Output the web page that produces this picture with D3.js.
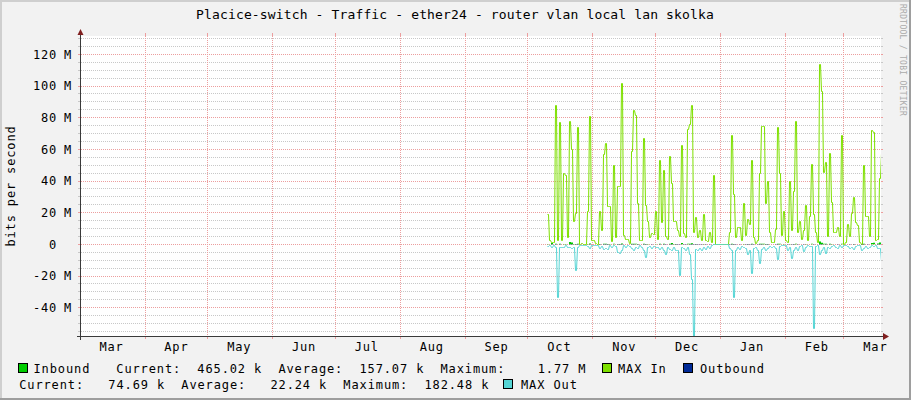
<!DOCTYPE html>
<html><head><meta charset="utf-8">
<script src="https://cdn.jsdelivr.net/npm/d3@7/dist/d3.min.js"></script>
<style>
html,body{margin:0;padding:0;background:#f2f2f2;}
svg{display:block;font-family:"DejaVu Sans Mono",monospace;}
</style>
</head><body>
<svg id="chart" width="911" height="400"></svg>
<script>
// ---------------- data ----------------
const title = "Placice-switch - Traffic - ether24 - router vlan local lan skolka";
const yAxisTitle = "bits per second";
const watermark = "RRDTOOL / TOBI OETIKER";
const monthLabels = ["Mar","Apr","May","Jun","Jul","Aug","Sep","Oct","Nov","Dec","Jan","Feb","Mar"];
const yTickValues = [-40,-20,0,20,40,60,80,100,120];   // in M (bits/s)
const yTickUnit = "M";

// samples (in Mbit/s), one per consolidation step
const sampleStart = new Date(2024, 9, 10, 2, 0);
const sampleStepMinutes = 1376;

const maxIn = [
  19,3,1.5,1.5,88,3,77,3,45,44,
  4.6,78,60,15,20,74,0.5,1,0.5,0.5,
  21,81,3,2.5,1,0.5,21,9,57,64,
  24,24,2,50,4.6,37,37,102,6,3.5,
  3.5,1,59,85,82,26,2.5,3,67,25,
  15,4.6,7,6.7,21,3.5,53,14,47,5,
  3.5,56,39,15,15,9,5,62.5,7,4.6,
  73,76,88,8,17,4.6,9,2.5,19,2.5,
  2,8,1.5,44,0,0,0,0,0,0,
  0,8,69,32,4.6,11,11,2.5,26,6,
  16,13,53,4.6,1,2.5,45,74.5,75,26,
  40,8,1.5,1.5,10,74,45,6,21,2.5,
  1.5,40,9,34,78,8,15,3.5,9,25,
  2.5,18,51,19,8,1.5,114,97,46,52,
  5,58,27,8,8,11,5,69,0.5,1.5,
  13,5,20,30,14,12,1.5,0.5,50,18,
  18,5,72,71,2.5,3.5,42,58
];
const maxOut = [
  1.3,0.6,1.7,0.6,1.7,33,1.7,1.7,1.7,0.6,
  1.7,1.7,2.1,1.7,16.4,1.7,0.4,0.4,0.4,0.4,
  1.3,2.1,0.6,0.4,0.4,0.4,2.1,1.3,2.7,2.1,
  2.9,0.6,1.7,0.6,1.3,4.8,5.5,3.8,0.6,1.7,
  0.2,1.3,2.1,3.8,1.7,2.1,0.6,1.7,3.8,8,
  1.7,0.8,2.1,1.3,1.7,1.7,2.7,1.7,3.4,6.3,
  1.7,2.7,3.8,1.7,3.4,3.4,19.6,1.7,2.1,3.8,
  1.7,5.9,22,58,2.7,3.8,2.1,3.8,1.7,2.9,
  1.3,2.1,0.6,0,0,0,0,0,0,0,
  0,2.1,3.8,33,3.4,1.7,2.7,1.3,1.7,2.1,
  6.3,3.8,18,2.1,1.7,3.8,11.8,2.7,1.7,3.4,
  2.1,1.3,1.7,1.3,2.1,9,1.3,0.4,0.2,0.6,
  3.4,1.7,8.4,3.8,1.7,3.4,0.8,0.6,4.2,1.7,
  0.6,1.3,1.3,53,1.3,0.6,5.9,3.8,1.7,5.5,
  1.7,2.1,1.3,0.6,1.7,2.1,0.6,1.7,0.4,0.2,
  1.3,2.1,1.7,2.9,1.3,0.6,0.2,3.8,2.1,1.3,
  2.1,1.7,0.6,1.3,0.6,2.1,2.1,10.5
];
const inbound = [
  0.2,0.1,0.8,0.1,0.4,0.1,0.3,0.1,0.2,0.2,
  0.1,1.5,1.2,0.2,0.2,0.3,0.05,0.05,0.05,0.05,
  0.2,0.6,0.1,0.1,0.05,0.05,0.2,0.1,0.3,0.4,
  0.2,0.2,0.05,0.3,0.1,0.2,0.2,0.5,0.1,0.1,
  0.1,0.05,0.3,0.4,0.4,0.2,0.1,0.1,0.3,0.2,
  0.2,0.1,0.1,0.1,0.2,0.1,0.3,0.1,0.3,0.1,
  0.1,0.3,0.9,0.2,0.2,0.1,0.1,0.8,0.1,0.1,
  0.3,0.4,0.7,0.1,0.2,0.1,0.1,0.05,0.2,0.05,
  0.05,0.1,0.05,0.2,0,0,0,0,0,0,
  0,0.1,0.3,0.2,0.1,0.1,0.1,0.05,0.2,0.1,
  0.2,0.1,0.3,0.1,0.05,0.05,0.3,0.4,0.4,0.2,
  0.2,0.1,0.05,0.05,0.1,0.4,0.3,0.1,0.2,0.05,
  0.05,0.2,0.1,0.2,0.4,0.1,0.1,0.05,0.1,0.2,
  0.05,0.1,0.3,0.1,0.1,0.05,1.77,1.0,0.3,0.3,
  0.1,0.3,0.2,0.1,0.1,0.1,0.1,0.4,0.05,0.05,
  0.1,0.1,0.1,0.2,0.1,0.1,0.05,0.05,0.3,0.1,
  0.1,0.1,0.9,1.0,0.1,0.5,1.1,0.47
];
const outbound = [
  0.02,0.01,0.03,0.01,0.05,0.02,0.03,0.01,0.02,0.02,
  0.01,0.06,0.04,0.02,0.03,0.05,0.01,0.01,0.01,0.01,
  0.02,0.04,0.01,0.01,0.01,0.01,0.03,0.02,0.03,0.03,
  0.04,0.01,0.02,0.01,0.02,0.08,0.09,0.05,0.01,0.02,
  0.01,0.02,0.03,0.05,0.02,0.03,0.01,0.02,0.05,0.12,
  0.02,0.01,0.03,0.02,0.02,0.02,0.04,0.02,0.05,0.09,
  0.02,0.04,0.05,0.02,0.05,0.05,0.15,0.02,0.03,0.05,
  0.02,0.08,0.16,0.18,0.04,0.05,0.03,0.05,0.02,0.04,
  0.02,0.03,0.01,0,0,0,0,0,0,0,
  0,0.03,0.05,0.17,0.05,0.02,0.04,0.02,0.02,0.03,
  0.09,0.05,0.14,0.03,0.02,0.05,0.11,0.04,0.02,0.05,
  0.03,0.02,0.02,0.02,0.03,0.1,0.02,0.01,0.01,0.01,
  0.05,0.02,0.1,0.05,0.02,0.05,0.01,0.01,0.06,0.02,
  0.01,0.02,0.02,0.17,0.02,0.01,0.08,0.05,0.02,0.07,
  0.02,0.03,0.02,0.01,0.02,0.03,0.01,0.02,0.01,0.01,
  0.02,0.03,0.02,0.04,0.02,0.01,0.01,0.05,0.03,0.02,
  0.03,0.02,0.01,0.02,0.01,0.03,0.03,0.07
];

// legend
const legendNames = ["Inbound","MAX In","Outbound","MAX Out"];
const legendColors = ["#00cc00","#7ee000","#002a97","#55d5d5"];
const statLabels = ["Current:","Average:","Maximum:"];
const inboundStats = [[465.02,"k"],[157.07,"k"],[1.77,"M"]];
const outboundStats = [[74.69,"k"],[22.24,"k"],[182.48,"k"]];

// ---------------- drawing ----------------
const W = 911, H = 400;
const svg = d3.select("#chart");
const C = {back:"#f2f2f2", shadeA:"#cfcfcf", shadeB:"#9e9e9e", grid:"#c8c8c8",
           mgrid:"#ec9e9e", arrow:"#801f1f", axis:"#3a3a3a", font:"#000"};

svg.append("rect").attr("width",W).attr("height",H).attr("fill",C.back);
// 3D frame
svg.append("rect").attr("x",0).attr("y",0).attr("width",W).attr("height",2).attr("fill",C.shadeA);
svg.append("rect").attr("x",0).attr("y",0).attr("width",2).attr("height",H).attr("fill",C.shadeA);
svg.append("rect").attr("x",0).attr("y",H-2).attr("width",W).attr("height",2).attr("fill",C.shadeB);
svg.append("rect").attr("x",W-2).attr("y",0).attr("width",2).attr("height",H).attr("fill",C.shadeB);

const X0 = 81, X1 = 881, YT = 36, YB = 336;
const x = d3.scaleTime()
  .domain([new Date(2024,2,1,10,0), new Date(2025,2,18,16,20)])
  .range([X0, X1]);
const y = d3.scaleLinear().domain([-57.9, 131.6]).range([YB, YT]);
const px = v => Math.floor(v) + 0.5;

// canvas
svg.append("rect").attr("x",X0).attr("y",YT).attr("width",X1-X0).attr("height",YB-YT).attr("fill","#fff");

const grid = svg.append("g").attr("shape-rendering","crispEdges");
// horizontal grid
const hVals = d3.range(-55, 131, 5);
hVals.forEach(v => {
  const yy = px(y(v));
  const major = v % 20 === 0;
  const col = major ? C.mgrid : C.grid;
  grid.append("line").attr("x1",X0).attr("x2",X1).attr("y1",yy).attr("y2",yy)
    .attr("stroke",col).attr("stroke-dasharray","1,1");
  grid.append("line").attr("x1",X0-3).attr("x2",X0).attr("y1",yy).attr("y2",yy).attr("stroke",col);
  grid.append("line").attr("x1",X1).attr("x2",X1+2).attr("y1",yy).attr("y2",yy).attr("stroke",col);
});
// vertical month grid
const monthStarts = d3.timeMonth.range(new Date(2024,3,1), x.domain()[1]);
monthStarts.forEach(m => {
  const xx = px(x(m));
  grid.append("line").attr("x1",xx).attr("x2",xx).attr("y1",YT).attr("y2",YB)
    .attr("stroke",C.mgrid).attr("stroke-dasharray","1,1");
  grid.append("line").attr("x1",xx).attr("x2",xx).attr("y1",YT-3).attr("y2",YT).attr("stroke",C.mgrid);
  grid.append("line").attr("x1",xx).attr("x2",xx).attr("y1",YB).attr("y2",YB+3).attr("stroke",C.mgrid);
});

// series
const stepMs = sampleStepMinutes * 60000;
const tAt = i => new Date(sampleStart.getTime() + i*stepMs);
const stepPts = (arr, sign) => {
  const p = arr.map((v,i) => ({t: tAt(i), v: sign*v}));
  p.push({t: tAt(arr.length), v: sign*arr[arr.length-1]});
  return p;
};
// rrdtool-like pixel line: value held across its pixel columns, 1px transition
const pixPts = (arr, sign) => {
  const p = [];
  arr.forEach((v,i) => {
    const xs = Math.round(x(tAt(i))), xe = Math.round(x(tAt(i+1))) - 1;
    const yy = Math.round(y(sign*v)) + 0.5;
    p.push([xs + 0.5, yy]);
    if (xe > xs) p.push([xe + 0.5, yy]);
  });
  return p;
};
svg.append("clipPath").attr("id","plotclip").append("rect")
  .attr("x",X0).attr("y",YT).attr("width",X1-X0).attr("height",YB-YT);
const plot = svg.append("g").attr("clip-path","url(#plotclip)");
const area = d3.area().x(d => Math.round(x(d.t))).y0(y(0)).y1(d => y(d.v))
  .curve(d3.curveStepAfter);
const line = d3.line();

plot.append("path").attr("d", area(stepPts(inbound, 1))).attr("fill", legendColors[0]);
plot.append("path").attr("d", line(pixPts(maxIn, 1))).attr("fill","none")
  .attr("stroke", legendColors[1]).attr("stroke-width",1);
plot.append("path").attr("d", area(stepPts(outbound, -1))).attr("fill", legendColors[2]);
plot.append("path").attr("d", line(pixPts(maxOut, -1))).attr("fill","none")
  .attr("stroke", legendColors[3]).attr("stroke-width",1);

// axes
const ax = svg.append("g").attr("shape-rendering","crispEdges");
ax.append("line").attr("x1",X0-4).attr("x2",X1+3).attr("y1",YB+0.5).attr("y2",YB+0.5).attr("stroke",C.axis);
ax.append("line").attr("x1",X0-0.5).attr("x2",X0-0.5).attr("y1",YT-2).attr("y2",YB+4).attr("stroke",C.axis);
svg.append("path").attr("d",`M${X1+2},${YB-3}L${X1+8},${YB+0.5}L${X1+2},${YB+4}Z`).attr("fill",C.arrow);
svg.append("path").attr("d",`M${X0-3.5},${YT-1}L${X0-0.5},${YT-7}L${X0+2.5},${YT-1}Z`).attr("fill",C.arrow);

// text
const txt = (sel, s, size, ls) => sel.append("text").text(s)
  .attr("font-size", size).attr("letter-spacing", ls).attr("fill", C.font)
  .style("white-space","pre");

txt(svg, title, 13, 0.14).attr("x", 455).attr("y", 19).attr("text-anchor","middle");

// y tick labels
yTickValues.forEach(v => {
  const yy = y(v) + 4.3;
  txt(svg, String(v), 12, 0.8).attr("x", 57).attr("y", yy).attr("text-anchor","end");
  if (v !== 0) txt(svg, yTickUnit, 12, 0.8).attr("x", 64).attr("y", yy);
});
// y title
txt(svg, yAxisTitle, 12, 0.85).attr("text-anchor","middle")
  .attr("transform", `translate(14.5,${(YT+YB)/2}) rotate(-90)`);

// month labels
const labelMonths = d3.timeMonth.range(new Date(2024,2,1), x.domain()[1]);
labelMonths.forEach((m,i) => {
  txt(svg, monthLabels[i], 12, 0.8).attr("x", x(d3.timeDay.offset(m,15))).attr("y", 351)
    .attr("text-anchor","middle");
});

// watermark
svg.append("text").text(watermark).attr("font-size",8).attr("letter-spacing",0.28)
  .attr("fill","#aaaaaa").attr("transform","translate(899.5,4) rotate(90)");

// legend
const fmt = st => statLabels.map((l,i) => l + st[i][0].toFixed(2).padStart(8) + " " + st[i][1]).join("  ");
const sw = (xx, yy, col) => svg.append("rect").attr("x",xx+0.5).attr("y",yy+0.5)
  .attr("width",9).attr("height",9).attr("fill",col).attr("stroke","#000").attr("stroke-width",1)
  .attr("shape-rendering","crispEdges");
sw(18, 363, legendColors[0]); txt(svg, legendNames[0], 12, 0.88).attr("x",33.5).attr("y",373);
txt(svg, fmt(inboundStats), 12, 0.88).attr("x",116.3).attr("y",373);
sw(602, 363, legendColors[1]); txt(svg, legendNames[1], 12, 0.88).attr("x",618).attr("y",373);
sw(683, 363, legendColors[2]); txt(svg, legendNames[2], 12, 0.88).attr("x",700).attr("y",373);
txt(svg, fmt(outboundStats), 12, 0.88).attr("x",19.2).attr("y",389);
sw(503, 379, legendColors[3]); txt(svg, legendNames[3], 12, 0.88).attr("x",521).attr("y",389);
</script>
</body></html>
